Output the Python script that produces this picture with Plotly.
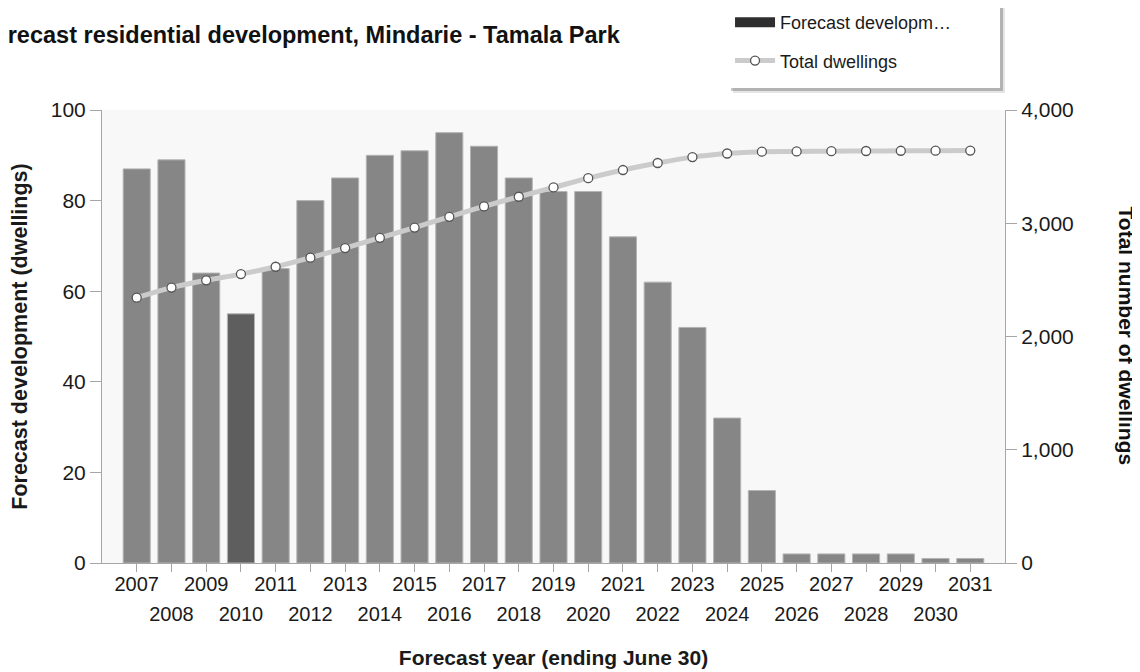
import plotly.graph_objects as go

# ---------------- Data ----------------

years = list(range(2007, 2032))

forecast_dev = [87, 89, 64, 55, 65, 80, 85, 90, 91, 95, 92, 85, 82,
                82, 72, 62, 52, 32, 16, 2, 2, 2, 2, 1, 1]

total_dwellings = [2343, 2432, 2496, 2551, 2616, 2696, 2781, 2871, 2962,
                   3057, 3149, 3234, 3316, 3398, 3470, 3532, 3584, 3616,
                   3632, 3634, 3636, 3638, 3640, 3641, 3642]

odd_years = [y for y in years if y % 2 == 1]
even_years = [y for y in years if y % 2 == 0]

left_ticks = [0, 20, 40, 60, 80, 100]
right_ticks = [0, 1000, 2000, 3000, 4000]

FONT = "Liberation Sans, Arial, sans-serif"
AXIS_COL = "#a6a6a6"

# highlighted (hovered) bar in the original is 2010
bar_colors = ["#5e5e5e" if y == 2010 else "#868686" for y in years]

fig = go.Figure()

fig.add_trace(
    go.Bar(
        x=years,
        y=forecast_dev,
        width=0.78,
        name="Forecast developm\u2026",
        marker=dict(color=bar_colors, line=dict(color="#b4b4b4", width=1)),
        showlegend=False,
        legendgroup="a",
    )
)

# legend swatch for the bars (wide dark block, as in the original legend)
fig.add_trace(
    go.Scatter(
        x=[None],
        y=[None],
        mode="lines",
        name="Forecast developm\u2026",
        line=dict(color="#2e2e2e", width=16),
        legendgroup="a",
    )
)

fig.add_trace(
    go.Scatter(
        x=years,
        y=total_dwellings,
        yaxis="y2",
        mode="lines+markers",
        name="Total dwellings",
        line=dict(color="#cbcbcb", width=5, shape="spline"),
        marker=dict(symbol="circle", size=9, color="white",
                    line=dict(color="#555555", width=1.3)),
        legendgroup="b",
    )
)

# dummy trace so the second (even-year) x axis is drawn
fig.add_trace(
    go.Scatter(x=[None], y=[None], xaxis="x2", showlegend=False,
               hoverinfo="skip")
)

# ---------------- Layout ----------------
# page body has an 8px margin, so the figure is 8px smaller and margins
# are shifted to keep the plot area where the original has it

fig.update_layout(
    width=1132,
    height=664,
    margin=dict(l=94, r=135, t=102, b=109, autoexpand=False),
    paper_bgcolor="white",
    plot_bgcolor="#f8f8f8",
    font=dict(family=FONT, size=20, color="#1a1a1a"),
    xaxis=dict(
        range=[2006, 2032],
        tickvals=odd_years,
        ticktext=[str(y) for y in odd_years],
        ticks="outside",
        ticklen=8,
        tickcolor=AXIS_COL,
        showline=True,
        linecolor=AXIS_COL,
        showgrid=False,
        zeroline=False,
        automargin=False,
        tickfont=dict(size=20),
        ticklabelstandoff=-5,
        title=dict(text="<b>Forecast year (ending June 30)</b>",
                   font=dict(size=21), standoff=56),
    ),
    xaxis2=dict(
        range=[2006, 2032],
        overlaying="x",
        anchor="y",
        side="bottom",
        tickvals=even_years,
        ticktext=[str(y) for y in even_years],
        ticks="outside",
        ticklen=8,
        tickcolor=AXIS_COL,
        showline=False,
        showgrid=False,
        zeroline=False,
        automargin=False,
        tickfont=dict(size=20),
        ticklabelstandoff=25,
    ),
    yaxis=dict(
        range=[0, 100],
        tickvals=left_ticks,
        ticks="outside",
        ticklen=11,
        tickcolor=AXIS_COL,
        showline=True,
        linecolor=AXIS_COL,
        showgrid=False,
        zeroline=False,
        automargin=False,
        tickfont=dict(size=21),
        title=dict(text="<b>Forecast development (dwellings)</b>",
                   font=dict(size=21.5), standoff=18),
    ),
    yaxis2=dict(
        range=[0, 4000],
        tickvals=right_ticks,
        tickformat=",",
        overlaying="y",
        side="right",
        ticks="outside",
        ticklen=11,
        tickcolor=AXIS_COL,
        showline=True,
        linecolor=AXIS_COL,
        showgrid=False,
        zeroline=False,
        automargin=False,
        tickfont=dict(size=21),
    ),
    legend=dict(
        x=0.6955,
        y=1.234,
        xanchor="left",
        yanchor="top",
        bgcolor="rgba(0,0,0,0)",
        borderwidth=0,
        font=dict(size=18, color="#1a1a1a"),
        traceorder="grouped",
        tracegroupgap=12,
        itemwidth=40,
    ),
    showlegend=True,
)

# legend box: soft drop shadow + white panel behind the legend
fig.add_shape(
    type="rect", xref="paper", yref="paper",
    x0=0.6988, x1=1.0, y0=1.0375, y1=1.232,
    fillcolor="rgba(0,0,0,0.10)", line=dict(width=0), layer="below",
)
fig.add_shape(
    type="rect", xref="paper", yref="paper",
    x0=0.6966, x1=0.9978, y0=1.0419, y1=1.2362,
    fillcolor="rgba(0,0,0,0.22)", line=dict(width=0), layer="below",
)
fig.add_shape(
    type="rect", xref="paper", yref="paper",
    x0=0.6932, x1=0.9945, y0=1.0486, y1=1.2428,
    fillcolor="white", line=dict(width=0), layer="below",
)

fig.add_annotation(
    text="<b>Forecast residential development, Mindarie - Tamala Park</b>",
    xref="paper",
    yref="paper",
    x=-0.138,
    y=1.166,
    xanchor="left",
    yanchor="middle",
    showarrow=False,
    font=dict(size=23.5, color="#111111"),
)

fig.add_annotation(
    text="<b>Total number of dwellings</b>",
    xref="paper",
    yref="paper",
    x=1.135,
    y=0.5,
    xanchor="center",
    yanchor="middle",
    textangle=90,
    showarrow=False,
    font=dict(size=21, color="#111111"),
)

fig.write_html("out.html")
